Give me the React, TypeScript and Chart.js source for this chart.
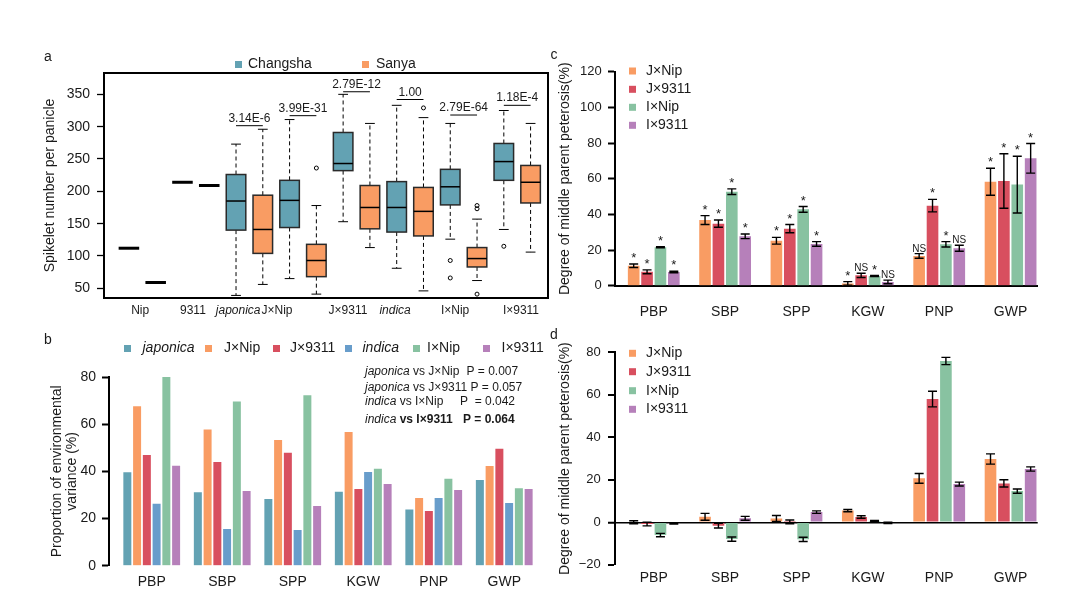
import React, { useEffect, useRef } from 'react';
import { Chart, registerables } from 'chart.js';

Chart.register(...registerables);

const FONT = "'Liberation Sans', Arial, Helvetica, sans-serif";
const INK = '#1a1a1a';
const PAGE_W = 1070;
const PAGE_H = 599;

const TEAL = '#63A2B3';
const ORANGE = '#F99C63';
const RED = '#D84F5F';
const BLUE = '#689DCB';
const GREEN = '#88C2A1';
const PURPLE = '#B680BA';

// ---------------- Panel a : spikelet number per panicle ----------------
const boxGroups = ['Nip', '9311', 'japonica', 'J×Nip', 'J×9311', 'indica', 'I×Nip', 'I×9311'];
const boxGroupItalic = [false, false, true, false, false, true, false, false];
// [min, q1, median, q3, max]
const changshaStats = [
  [112, 112, 112, 112, 112],
  [214, 214, 214, 214, 214],
  [39, 140, 185, 226, 273],
  [65, 144, 186, 217, 311],
  [153, 232, 243, 291, 350],
  [81, 137, 175, 215, 333],
  [126, 179, 207, 234, 305],
  [141, 217, 246, 274, 325],
];
const sanyaStats = [
  [59, 59, 59, 59, 59],
  [209, 209, 209, 209, 209],
  [56, 104, 141, 194, 296],
  [41, 68, 93, 118, 178],
  [113, 142, 175, 209, 305],
  [46, 131, 169, 206, 314],
  [62, 83, 96, 113, 157],
  [106, 182, 214, 240, 305],
];
const changshaOutliers = [[], [], [], [], [], [], [93, 66], [115]];
const sanyaOutliers = [[], [], [], [236], [], [329], [178, 173, 41], []];
const pairPValues = ['', '', '3.14E-6', '3.99E-31', '2.79E-12', '1.00', '2.79E-64', '1.18E-4'];
const pairLineY = [null, null, 301.5, 317, 354, 342, 318, 333];
const boxYTicks = [50, 100, 150, 200, 250, 300, 350];
const envLabelsA = ['Changsha', 'Sanya'];

// ---------------- Panel b : proportion of environmental variance ----------------
const traits = ['PBP', 'SBP', 'SPP', 'KGW', 'PNP', 'GWP'];
const envSeriesNames = ['japonica', 'J×Nip', 'J×9311', 'indica', 'I×Nip', 'I×9311'];
const envSeriesItalic = [true, false, false, true, false, false];
const envJaponica = [39.6, 31.1, 28.3, 31.3, 23.8, 36.3];
const envJxNip = [67.6, 57.7, 53.3, 56.7, 28.7, 42.3];
const envJx9311 = [46.9, 44.0, 47.9, 32.5, 23.2, 49.6];
const envIndica = [26.3, 15.6, 15.1, 39.7, 28.7, 26.6];
const envIxNip = [82.3, 69.6, 72.3, 41.1, 36.9, 32.8];
const envIx9311 = [42.4, 31.7, 25.3, 34.6, 32.1, 32.5];
const envYTicks = [0, 20, 40, 60, 80];
const envTestGroup = ['japonica', 'japonica', 'indica', 'indica'];
const envTestVs = [' vs J×Nip', ' vs J×9311', ' vs I×Nip', ' vs I×9311'];
const envTestP = ['P = 0.007', 'P = 0.057', 'P  = 0.042', 'P = 0.064'];

// ---------------- Panel c / d : mid-parent heterosis ----------------
const hybridNames = ['J×Nip', 'J×9311', 'I×Nip', 'I×9311'];
const mpcJxNip = [11.2, 36.8, 25.2, 1.3, 16.7, 58.3];
const mpcJxNipErr = [1.0, 2.5, 1.9, 1.0, 1.3, 7.6];
const mpcJx9311 = [7.8, 34.8, 32.0, 5.8, 44.9, 58.7];
const mpcJx9311Err = [1.1, 2.0, 2.3, 1.2, 3.5, 15.3];
const mpcIxNip = [21.5, 52.7, 42.8, 5.4, 23.2, 56.7];
const mpcIxNipErr = [0.3, 1.6, 1.6, 0.3, 1.5, 15.9];
const mpcIx9311 = [7.7, 27.7, 23.4, 2.1, 21.0, 71.4];
const mpcIx9311Err = [0.4, 1.3, 1.3, 1.0, 1.7, 8.3];
const sigJxNip = ['*', '*', '*', '*', 'NS', '*'];
const sigJx9311 = ['*', '*', '*', 'NS', '*', '*'];
const sigIxNip = ['*', '*', '*', '*', '*', '*'];
const sigIx9311 = ['*', '*', '*', 'NS', 'NS', '*'];
const mpcYTicks = [0, 20, 40, 60, 80, 100, 120];

const mpdJxNip = [0.0, 2.6, 1.8, 5.5, 20.7, 29.8];
const mpdJxNipErr = [0.7, 1.6, 1.4, 0.5, 2.3, 2.4];
const mpdJx9311 = [-0.8, -1.6, 0.2, 2.5, 58.0, 18.3];
const mpdJx9311Err = [0.9, 1.1, 0.9, 0.6, 3.7, 1.7];
const mpdIxNip = [-6.0, -7.9, -8.0, 0.6, 75.9, 14.7];
const mpdIxNipErr = [0.8, 1.0, 1.0, 0.3, 1.7, 1.0];
const mpdIx9311 = [-0.5, 1.9, 4.8, -0.3, 18.0, 25.1];
const mpdIx9311Err = [0.3, 0.9, 0.6, 0.3, 0.9, 1.0];
const mpdYTicks = [-20, 0, 20, 40, 60, 80];
const mpTitle = 'Degree of middle parent peterosis(%)';

Chart.defaults.font.family = FONT;
Chart.defaults.color = INK;

const font = (size: number, style = 'normal', weight = 'normal') =>
  `${style} ${weight} ${size}px ${FONT}`;

// ---------- helpers ----------
function drawLetter(ctx: any, t: string, x: number, y: number) {
  ctx.save();
  ctx.fillStyle = INK;
  ctx.font = font(14);
  ctx.textAlign = 'center';
  ctx.textBaseline = 'middle';
  ctx.fillText(t, x, y);
  ctx.restore();
}

function legendItem(ctx: any, color: string, sx: number, cy: number, label: string, tx: number, italic = false) {
  ctx.fillStyle = color;
  ctx.fillRect(sx, cy - 3.5, 7, 7);
  ctx.fillStyle = INK;
  ctx.font = font(14, italic ? 'italic' : 'normal');
  ctx.textAlign = 'left';
  ctx.textBaseline = 'middle';
  ctx.fillText(label, tx, cy);
}

// ---------- Panel a plugins ----------
const BOX_WIDTH = 0.73;
const boxPlotPlugin = {
  id: 'boxPlot',
  afterDatasetsDraw(chart: any) {
    const { ctx } = chart;
    const xs = chart.scales.x;
    const ys = chart.scales.y;
    const half = (xs.getPixelForValue(BOX_WIDTH) - xs.getPixelForValue(0)) / 2;
    ctx.save();
    chart.data.datasets.forEach((ds: any) => {
      ds.stats.forEach((st: number[], g: number) => {
        const cx = xs.getPixelForValue(ds.data[g].x);
        const [pMin, pQ1, pMed, pQ3, pMax] = st.map((v) => ys.getPixelForValue(v));
        if (st[1] === st[3]) {
          ctx.strokeStyle = '#000';
          ctx.lineWidth = 3;
          ctx.beginPath();
          ctx.moveTo(cx - half - 0.5, pMed);
          ctx.lineTo(cx + half + 0.5, pMed);
          ctx.stroke();
          return;
        }
        ctx.strokeStyle = '#000';
        ctx.lineWidth = 1;
        ctx.setLineDash([4, 3]);
        ctx.beginPath();
        ctx.moveTo(cx, pQ3);
        ctx.lineTo(cx, pMax);
        ctx.moveTo(cx, pQ1);
        ctx.lineTo(cx, pMin);
        ctx.stroke();
        ctx.setLineDash([]);
        ctx.beginPath();
        ctx.moveTo(cx - half / 2, pMax);
        ctx.lineTo(cx + half / 2, pMax);
        ctx.moveTo(cx - half / 2, pMin);
        ctx.lineTo(cx + half / 2, pMin);
        ctx.stroke();
        ctx.fillStyle = ds.backgroundColor;
        ctx.fillRect(cx - half, pQ3, 2 * half, pQ1 - pQ3);
        ctx.strokeStyle = '#2a2a2a';
        ctx.lineWidth = 1.5;
        ctx.strokeRect(cx - half, pQ3, 2 * half, pQ1 - pQ3);
        ctx.strokeStyle = '#000';
        ctx.beginPath();
        ctx.moveTo(cx - half, pMed);
        ctx.lineTo(cx + half, pMed);
        ctx.stroke();
        ctx.lineWidth = 1;
        ds.outliers[g].forEach((v: number) => {
          ctx.beginPath();
          ctx.arc(cx, ys.getPixelForValue(v), 2, 0, Math.PI * 2);
          ctx.stroke();
        });
      });
    });
    // significance lines
    const dsC = chart.data.datasets[0];
    const dsS = chart.data.datasets[1];
    pairPValues.forEach((p, g) => {
      if (!p) return;
      const x1 = xs.getPixelForValue(dsC.data[g].x);
      const x2 = xs.getPixelForValue(dsS.data[g].x);
      const yy = ys.getPixelForValue(pairLineY[g] as number);
      ctx.strokeStyle = '#000';
      ctx.lineWidth = 1;
      ctx.beginPath();
      ctx.moveTo(x1, yy);
      ctx.lineTo(x2, yy);
      ctx.stroke();
      ctx.fillStyle = INK;
      ctx.font = font(12);
      ctx.textAlign = 'center';
      ctx.textBaseline = 'alphabetic';
      ctx.fillText(p, (x1 + x2) / 2, yy - 4);
    });
    ctx.restore();
  },
  afterDraw(chart: any) {
    const { ctx, chartArea: a } = chart;
    ctx.save();
    ctx.strokeStyle = '#000';
    ctx.lineWidth = 2;
    ctx.strokeRect(a.left, a.top, a.right - a.left, a.bottom - a.top);
    legendItem(ctx, TEAL, 235, 64.5, envLabelsA[0], 248);
    legendItem(ctx, ORANGE, 362, 64.5, envLabelsA[1], 376);
    drawLetter(ctx, 'a', 48, 57);
    ctx.restore();
  },
};

// ---------- Panel b decor ----------
const envDecorPlugin = {
  id: 'envDecor',
  afterDraw(chart: any) {
    const { ctx } = chart;
    ctx.save();
    const sq = [124, 205, 273, 345, 413, 483];
    const tx = [142.5, 224, 290, 362.5, 427, 501.5];
    chart.data.datasets.forEach((ds: any, i: number) => {
      legendItem(ctx, ds.backgroundColor, sq[i], 348.5, ds.label, tx[i], envSeriesItalic[i]);
    });
    const lineY = [371.5, 388, 402, 420];
    const pX = [466.5, 470.5, 460, 463];
    envTestGroup.forEach((g, i) => {
      const bold = i === 3;
      ctx.fillStyle = INK;
      ctx.textAlign = 'left';
      ctx.textBaseline = 'middle';
      ctx.font = font(12, 'italic');
      ctx.fillText(g, 365, lineY[i]);
      const w = ctx.measureText(g).width;
      ctx.font = font(12, 'normal', bold ? 'bold' : 'normal');
      ctx.fillText(envTestVs[i], 365 + w, lineY[i]);
      ctx.fillText(envTestP[i], pX[i], lineY[i]);
    });
    drawLetter(ctx, 'b', 48, 340);
    ctx.restore();
  },
};

// ---------- Panel c/d error bars + decor ----------
const errorBarPlugin = {
  id: 'errorBars',
  afterDatasetsDraw(chart: any) {
    const { ctx } = chart;
    const ys = chart.scales.y;
    ctx.save();
    chart.data.datasets.forEach((ds: any, di: number) => {
      const meta = chart.getDatasetMeta(di);
      meta.data.forEach((bar: any, i: number) => {
        const v = ds.data[i].y;
        const e = ds.errors[i];
        const top = ys.getPixelForValue(v + e);
        const bot = ys.getPixelForValue(v - e);
        ctx.strokeStyle = '#000';
        ctx.lineWidth = 1.4;
        ctx.beginPath();
        ctx.moveTo(bar.x, top);
        ctx.lineTo(bar.x, bot);
        ctx.moveTo(bar.x - 4.5, top);
        ctx.lineTo(bar.x + 4.5, top);
        ctx.moveTo(bar.x - 4.5, bot);
        ctx.lineTo(bar.x + 4.5, bot);
        ctx.stroke();
        if (ds.sig) {
          const s = ds.sig[i];
          ctx.fillStyle = INK;
          ctx.textAlign = 'center';
          ctx.textBaseline = 'alphabetic';
          ctx.font = s === '*' ? font(13) : font(10);
          ctx.fillText(s, bar.x, top - 2);
        }
      });
    });
    ctx.restore();
  },
};

function mpDecor(letter: string, letterY: number, rows: number[]) {
  return {
    id: 'mpDecor' + letter,
    afterDraw(chart: any) {
      const { ctx } = chart;
      ctx.save();
      chart.data.datasets.forEach((ds: any, i: number) => {
        legendItem(ctx, ds.backgroundColor, 629, rows[i], ds.label, 646);
      });
      drawLetter(ctx, letter, 554, letterY);
      ctx.restore();
    },
  };
}

// ---------- chart builders ----------
function layoutPad(left: number, top: number, right: number, bottom: number) {
  return { left, top, right: PAGE_W - right, bottom };
}

const minusFmt = (v: any) => (Number(v) < 0 ? '\u2212' + Math.abs(Number(v)) : String(v));

function buildA(canvas: HTMLCanvasElement) {
  const boxLabelPos = [1.42, 3.39, 5.08, 6.53, 9.18, 10.94, 13.18, 15.64];
  return new Chart(canvas, {
    type: 'scatter',
    data: {
      datasets: [
        {
          label: envLabelsA[0],
          data: changshaStats.map((s, g) => ({ x: 2 * g + 1, y: s[2] })),
          stats: changshaStats,
          outliers: changshaOutliers,
          backgroundColor: TEAL,
          pointRadius: 0,
        } as any,
        {
          label: envLabelsA[1],
          data: sanyaStats.map((s, g) => ({ x: 2 * g + 2, y: s[2] })),
          stats: sanyaStats,
          outliers: sanyaOutliers,
          backgroundColor: ORANGE,
          pointRadius: 0,
        } as any,
      ],
    },
    options: {
      responsive: false,
      animation: false,
      devicePixelRatio: 1,
      layout: { padding: layoutPad(38, 73, 548, PAGE_H - 298 - 35) },
      plugins: { legend: { display: false }, tooltip: { enabled: false } },
      scales: {
        x: {
          type: 'linear',
          min: 0.07,
          max: 16.65,
          offset: false,
          afterBuildTicks: (s: any) => {
            s.ticks = boxLabelPos.map((v) => ({ value: v }));
          },
          afterFit: (s: any) => {
            s.height = 35;
          },
          grid: { display: false, drawTicks: false },
          border: { display: false },
          ticks: {
            autoSkip: false,
            maxRotation: 0,
            padding: 5.8,
            color: INK,
            font: (c: any) => ({ family: FONT, size: 12, style: boxGroupItalic[c.index] ? 'italic' : 'normal' }),
            callback: (_v: any, i: number) => boxGroups[i],
          },
        },
        y: {
          min: 35,
          max: 383,
          afterBuildTicks: (s: any) => {
            s.ticks = boxYTicks.map((v) => ({ value: v }));
          },
          afterFit: (s: any) => {
            s.width = 66;
          },
          grid: { drawOnChartArea: false, drawTicks: true, tickLength: 7, tickColor: '#000', tickWidth: 1.3 },
          border: { display: false },
          ticks: { padding: 7, color: INK, font: { size: 14 } },
          title: { display: true, text: 'Spikelet number per panicle', color: INK, font: { size: 14 }, padding: { top: 3.6, bottom: 0 } },
        },
      },
    } as any,
    plugins: [boxPlotPlugin],
  });
}

function buildB(canvas: HTMLCanvasElement) {
  const series = [envJaponica, envJxNip, envJx9311, envIndica, envIxNip, envIx9311];
  const colors = [TEAL, ORANGE, RED, BLUE, GREEN, PURPLE];
  return new Chart(canvas, {
    type: 'bar',
    data: {
      datasets: series.map((vals, k) => ({
        label: envSeriesNames[k],
        data: vals.map((v, i) => ({ x: i, y: v })),
        backgroundColor: colors[k],
        categoryPercentage: 0.83,
        barPercentage: 0.82,
      })) as any,
    },
    options: {
      responsive: false,
      animation: false,
      devicePixelRatio: 1,
      layout: { padding: layoutPad(49, 377, 539.5, PAGE_H - 565.7 - 30) },
      plugins: { legend: { display: false }, tooltip: { enabled: false } },
      scales: {
        x: {
          type: 'linear',
          min: -0.606,
          max: 5.5,
          offset: false,
          afterBuildTicks: (s: any) => {
            s.ticks = traits.map((_t, i) => ({ value: i }));
          },
          afterFit: (s: any) => {
            s.height = 30;
          },
          grid: { display: false, drawTicks: false },
          border: { display: false },
          ticks: { autoSkip: false, maxRotation: 0, padding: 7.6, color: INK, font: { size: 14 }, callback: (_v: any, i: number) => traits[i] },
        },
        y: {
          min: 0,
          max: 80,
          afterBuildTicks: (s: any) => {
            s.ticks = envYTicks.map((v) => ({ value: v }));
          },
          afterFit: (s: any) => {
            s.width = 60;
          },
          grid: { drawOnChartArea: false, drawTicks: true, tickLength: 7, tickColor: '#000', tickWidth: 2 },
          border: { display: true, color: '#000', width: 2 },
          ticks: { padding: 6, color: INK, font: { size: 14 } },
          title: {
            display: true,
            text: ['Proportion of environmental', 'variance (%)'],
            color: INK,
            font: { size: 14, lineHeight: 1.07 },
            padding: { top: 0.2, bottom: 0 },
          },
        },
      },
    } as any,
    plugins: [envDecorPlugin],
  });
}

function mpDatasets(series: number[][], errs: number[][], sigs: (string[] | null)[]) {
  const colors = [ORANGE, RED, GREEN, PURPLE];
  return series.map((vals, k) => ({
    label: hybridNames[k],
    data: vals.map((v, i) => ({ x: i, y: v })),
    errors: errs[k],
    sig: sigs[k],
    backgroundColor: colors[k],
    categoryPercentage: 0.75,
    barPercentage: 0.87,
  })) as any;
}

function buildC(canvas: HTMLCanvasElement) {
  return new Chart(canvas, {
    type: 'bar',
    data: {
      datasets: mpDatasets(
        [mpcJxNip, mpcJx9311, mpcIxNip, mpcIx9311],
        [mpcJxNipErr, mpcJx9311Err, mpcIxNipErr, mpcIx9311Err],
        [sigJxNip, sigJx9311, sigIxNip, sigIx9311]
      ),
    },
    options: {
      responsive: false,
      animation: false,
      devicePixelRatio: 1,
      layout: { padding: layoutPad(555, 71.7, 1037.7, PAGE_H - 285.7 - 40) },
      plugins: { legend: { display: false }, tooltip: { enabled: false } },
      scales: {
        x: {
          type: 'linear',
          min: -0.543,
          max: 5.38,
          offset: false,
          afterBuildTicks: (s: any) => {
            s.ticks = traits.map((_t, i) => ({ value: i }));
          },
          afterFit: (s: any) => {
            s.height = 40;
          },
          grid: { display: false, drawTicks: false },
          border: { display: true, color: '#000', width: 2 },
          ticks: { autoSkip: false, maxRotation: 0, padding: 17.9, color: INK, font: { size: 14 }, callback: (_v: any, i: number) => traits[i] },
        },
        y: {
          min: 0,
          max: 120,
          afterBuildTicks: (s: any) => {
            s.ticks = mpcYTicks.map((v) => ({ value: v }));
          },
          afterFit: (s: any) => {
            s.width = 60;
          },
          grid: { drawOnChartArea: false, drawTicks: true, tickLength: 7, tickColor: '#000', tickWidth: 2 },
          border: { display: true, color: '#000', width: 2 },
          ticks: { padding: 6.3, color: INK, font: { size: 13 } },
          title: { display: true, text: mpTitle, color: INK, font: { size: 14 }, padding: { top: 1.6, bottom: 0 } },
        },
      },
    } as any,
    plugins: [errorBarPlugin, mpDecor('c', 55, [71, 89.3, 107.3, 125.3])],
  });
}

function buildD(canvas: HTMLCanvasElement) {
  return new Chart(canvas, {
    type: 'bar',
    data: {
      datasets: mpDatasets(
        [mpdJxNip, mpdJx9311, mpdIxNip, mpdIx9311],
        [mpdJxNipErr, mpdJx9311Err, mpdIxNipErr, mpdIx9311Err],
        [null, null, null, null]
      ),
    },
    options: {
      responsive: false,
      animation: false,
      devicePixelRatio: 1,
      layout: { padding: layoutPad(555, 352.3, 1037.7, PAGE_H - 564.8 - 30) },
      plugins: { legend: { display: false }, tooltip: { enabled: false } },
      scales: {
        x: {
          type: 'linear',
          min: -0.543,
          max: 5.38,
          offset: false,
          afterBuildTicks: (s: any) => {
            s.ticks = traits.map((_t, i) => ({ value: i }));
          },
          afterFit: (s: any) => {
            s.height = 30;
          },
          grid: { display: false, drawTicks: false },
          border: { display: false },
          ticks: { autoSkip: false, maxRotation: 0, padding: 5.1, color: INK, font: { size: 14 }, callback: (_v: any, i: number) => traits[i] },
        },
        y: {
          min: -20,
          max: 80,
          afterBuildTicks: (s: any) => {
            s.ticks = mpdYTicks.map((v) => ({ value: v }));
          },
          afterFit: (s: any) => {
            s.width = 60;
          },
          grid: {
            drawOnChartArea: true,
            drawTicks: true,
            tickLength: 7,
            tickColor: '#000',
            tickWidth: 2,
            color: (c: any) => (c.tick && c.tick.value === 0 ? '#000' : 'rgba(0,0,0,0)'),
            lineWidth: (c: any) => (c.tick && c.tick.value === 0 ? 1.5 : 0),
          },
          border: { display: true, color: '#000', width: 2 },
          ticks: { padding: 7.3, color: INK, font: { size: 13 }, callback: (v: any) => minusFmt(v) },
          title: { display: true, text: mpTitle, color: INK, font: { size: 14 }, padding: { top: 1.6, bottom: 0 } },
        },
      },
    } as any,
    plugins: [errorBarPlugin, mpDecor('d', 335, [353.3, 371.7, 390.7, 409.3])],
  });
}

function ChartCanvas({ build }: { build: (c: HTMLCanvasElement) => Chart }) {
  const ref = useRef<HTMLCanvasElement | null>(null);
  useEffect(() => {
    if (!ref.current) return;
    const chart = build(ref.current);
    return () => chart.destroy();
  }, [build]);
  return (
    <canvas
      ref={ref}
      width={PAGE_W}
      height={PAGE_H}
      style={{ position: 'absolute', left: 0, top: 0, width: PAGE_W, height: PAGE_H }}
    />
  );
}

export default function App() {
  return (
    <div style={{ position: 'absolute', left: 0, top: 0, width: PAGE_W, height: PAGE_H, background: '#fff', overflow: 'hidden' }}>
      <ChartCanvas build={buildA} />
      <ChartCanvas build={buildB} />
      <ChartCanvas build={buildC} />
      <ChartCanvas build={buildD} />
    </div>
  );
}
